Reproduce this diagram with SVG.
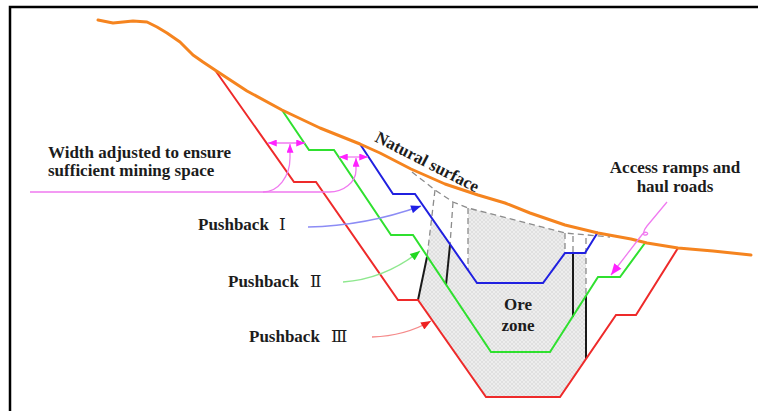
<svg xmlns="http://www.w3.org/2000/svg" width="758" height="411" viewBox="0 0 758 411">
  <defs>
    <pattern id="hatch" width="4" height="4" patternUnits="userSpaceOnUse">
      <rect width="4" height="4" fill="#ededed"/>
      <path d="M0,0 L4,4 M4,0 L0,4" stroke="#d2d2d2" stroke-width="0.5"/>
    </pattern>
    <marker id="arrBlue" viewBox="0 0 10 8" refX="10" refY="4" markerWidth="11" markerHeight="8" markerUnits="userSpaceOnUse" orient="auto">
      <path d="M0,0 L10,4 L0,8 Z" fill="#1f1fe6"/>
    </marker>
    <marker id="arrGreen" viewBox="0 0 10 8" refX="10" refY="4" markerWidth="11" markerHeight="8" markerUnits="userSpaceOnUse" orient="auto">
      <path d="M0,0 L10,4 L0,8 Z" fill="#22d822"/>
    </marker>
    <marker id="arrRed" viewBox="0 0 10 8" refX="10" refY="4" markerWidth="11" markerHeight="8" markerUnits="userSpaceOnUse" orient="auto">
      <path d="M0,0 L10,4 L0,8 Z" fill="#ee2222"/>
    </marker>
    <marker id="arrPink" viewBox="0 0 10 8" refX="10" refY="4" markerWidth="9" markerHeight="7" markerUnits="userSpaceOnUse" orient="auto-start-reverse">
      <path d="M0,0 L10,4 L0,8 Z" fill="#ff22ff"/>
    </marker>
    <marker id="arrPinkBig" viewBox="0 0 10 8" refX="10" refY="4" markerWidth="12" markerHeight="9" markerUnits="userSpaceOnUse" orient="auto">
      <path d="M0,0 L10,4 L0,8 Z" fill="#ff22ff"/>
    </marker>
    <style>
      .t{font-family:"Liberation Serif","DejaVu Serif",serif;font-weight:bold;fill:#1c1c1c;font-size:17px}
      .num{font-weight:normal}
      .shell{fill:none;stroke-width:2;stroke-linejoin:miter}
      .red{stroke:#ee2a2a}
      .green{stroke:#2fe02f}
      .blue{stroke:#2020e0}
      .dash{fill:none;stroke:#8c8c8c;stroke-width:1.3;stroke-dasharray:6,4}
      .cut{fill:none;stroke:#1a1a1a;stroke-width:2}
      .dim{fill:none;stroke:#f07af0;stroke-width:1.3}
    </style>
  </defs>

  <rect width="758" height="411" fill="#ffffff"/>
  <!-- frame -->
  <path d="M10,411 V7 H758" fill="none" stroke="#000" stroke-width="2.5"/>

  <!-- ore zone -->
  <g id="ore-zone">
    <polygon points="468,208 565,233 565,253 543,283 477,283 468,270" fill="url(#hatch)"/>
    <polygon points="432,218 477,283 543,283 565,253 586,253 586,359 560,397 486,397 418,300 427,257" fill="url(#hatch)"/>
    <polyline class="dash" points="412,172 435,190 453,202 468,208 565,233 610,237"/>
    <line class="dash" x1="435" y1="190" x2="427" y2="257"/>
    <line class="dash" x1="453" y1="202" x2="450" y2="245"/>
    <line class="dash" x1="468" y1="208" x2="468" y2="270"/>
    <line class="dash" x1="565" y1="233" x2="565" y2="253"/>
    <line class="dash" x1="573" y1="236" x2="573" y2="253"/>
    <line class="dash" x1="586" y1="238" x2="586" y2="296"/>
    <line class="cut" x1="427" y1="257" x2="418" y2="300"/>
    <line class="cut" x1="450" y1="245" x2="446" y2="285"/>
    <line class="cut" x1="573" y1="253" x2="573" y2="317"/>
    <line class="cut" x1="586" y1="296" x2="586" y2="359"/>
    <text class="t" x="518" y="310" text-anchor="middle">Ore</text>
    <text class="t" x="518" y="331" text-anchor="middle">zone</text>
  </g>

  <!-- pit shells -->
  <g id="pushback-3">
    <polyline class="shell red" points="215,70 294,182 316,182 398,300 418,300 486,397 560,397 616,315 636,315 678,248"/>
  </g>
  <g id="pushback-2">
    <polyline class="shell green" points="282,110 309,150 334,150 391,235 413,235 491,352 550,352 598,277 620,277 645,243"/>
  </g>
  <g id="pushback-1">
    <polyline class="shell blue" points="360,144 393,194 415,194 477,283 543,283 565,253 585,253 598,232"/>
  </g>

  <!-- natural surface -->
  <g id="natural-surface">
    <polyline fill="none" stroke="#f5841f" stroke-width="3" stroke-linejoin="round" stroke-linecap="round"
      points="98,20 113,23 133,21 147,22 157,27 167,33 180,42 193,55 203,62 215,70 247,91 282,110 320,128 360,144 380,153 411,169 445,184 478,195 505,203 530,213 565,225 598,233 631,239 647,243 678,248 713,251 751,255"/>
    <text class="t" x="374" y="141" transform="rotate(27 374 141)" font-size="16.5">Natural surface</text>
  </g>

  <!-- labels -->
  <g id="label-width">
    <text class="t" x="48" y="158" font-size="16.5">Width adjusted to ensure</text>
    <text class="t" x="48" y="176" font-size="16.5">sufficient mining space</text>
  </g>
  <g id="label-ramps">
    <text class="t" x="675" y="173" text-anchor="middle" font-size="16.5">Access ramps and</text>
    <text class="t" x="675" y="192" text-anchor="middle" font-size="16.5">haul roads</text>
  </g>
  <g id="label-pb1">
    <text class="t" x="198" y="230">Pushback <tspan class="num" x="279">Ⅰ</tspan></text>
  </g>
  <g id="label-pb2">
    <text class="t" x="228" y="287">Pushback <tspan class="num" x="310">Ⅱ</tspan></text>
  </g>
  <g id="label-pb3">
    <text class="t" x="249" y="342">Pushback <tspan class="num" x="331">Ⅲ</tspan></text>
  </g>

  <!-- connectors -->
  <g id="connectors">
    <path d="M308,227 Q365,226 421,206" fill="none" stroke="#8c8cf5" stroke-width="1.4" marker-end="url(#arrBlue)"/>
    <path d="M343,282 Q385,279 420,251" fill="none" stroke="#8ee88e" stroke-width="1.4" marker-end="url(#arrGreen)"/>
    <path d="M372,337 Q405,336 431,321" fill="none" stroke="#f58a8a" stroke-width="1.4" marker-end="url(#arrRed)"/>
    <path d="M667,202 L647,226 C643,231 642,236 646,235 C650,234 646,229 641,236 L611,275" fill="none" stroke="#f07af0" stroke-width="1.3" marker-end="url(#arrPinkBig)"/>
    <!-- width dimension marks -->
    <line class="dim" x1="268" y1="143" x2="305" y2="143" marker-start="url(#arrPink)" marker-end="url(#arrPink)"/>
    <line class="dim" x1="339" y1="157" x2="368" y2="157" marker-start="url(#arrPink)" marker-end="url(#arrPink)"/>
    <path class="dim" d="M263,192 A27,34 0 0 0 290,158 L290,144" marker-end="url(#arrPink)"/>
    <path class="dim" d="M30,192 L329,192 A27,22 0 0 0 356,170 L356,158" marker-end="url(#arrPink)"/>
  </g>
</svg>
